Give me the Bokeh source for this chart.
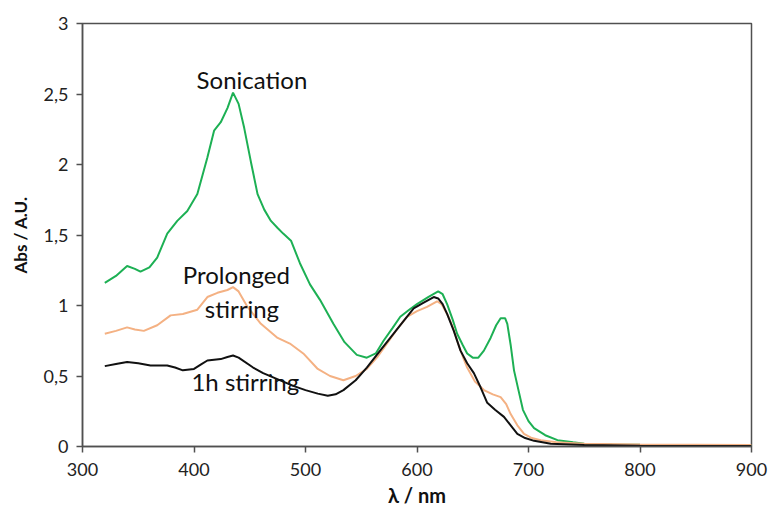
from bokeh.plotting import figure
from bokeh.models import Range1d, FixedTicker, Label
from bokeh.embed import file_html
from bokeh.resources import INLINE

# Sonication (green)
wl_son = [320, 330, 340, 347, 352, 360, 367, 376, 385, 394, 403, 412, 418, 424, 430,
          435, 440, 445, 451, 457, 463, 469, 475, 480, 487, 495, 504, 513, 525, 535,
          546, 555, 563, 570, 578, 585, 593, 600, 610, 619, 623, 627, 632, 636, 641,
          645, 650, 655, 660, 666, 671, 675, 679, 681, 684, 687, 691, 695, 700, 705,
          715, 726, 740, 750, 775, 800, 850, 900]
abs_son = [1.16, 1.21, 1.28, 1.26, 1.24, 1.27, 1.34, 1.51, 1.60, 1.67, 1.79, 2.05, 2.24, 2.30, 2.40,
           2.51, 2.43, 2.26, 2.02, 1.79, 1.68, 1.60, 1.55, 1.51, 1.46, 1.30, 1.15, 1.04, 0.87, 0.74,
           0.65, 0.63, 0.66, 0.75, 0.84, 0.92, 0.97, 1.01, 1.06, 1.10, 1.08, 1.01, 0.90, 0.80, 0.72,
           0.66, 0.63, 0.63, 0.68, 0.77, 0.86, 0.91, 0.91, 0.87, 0.72, 0.54, 0.40, 0.26, 0.18, 0.13,
           0.08, 0.045, 0.03, 0.02, 0.015, 0.012, 0.01, 0.005]

# Prolonged stirring (orange)
wl_pro = [320, 330, 340, 347, 355, 367, 379, 390, 403, 412, 421, 430, 435, 440, 448,
          460, 475, 486, 498, 511, 522, 534, 545, 555, 565, 573, 582, 591, 600, 609,
          618, 622, 627, 632, 636, 641, 645, 652, 660, 668, 675, 680, 684, 690, 696,
          703, 711, 725, 750, 800, 850, 900]
abs_pro = [0.80, 0.82, 0.845, 0.83, 0.82, 0.86, 0.93, 0.94, 0.97, 1.06, 1.09, 1.11, 1.13, 1.10, 0.99,
           0.87, 0.77, 0.73, 0.66, 0.55, 0.50, 0.47, 0.50, 0.55, 0.64, 0.73, 0.83, 0.92, 0.96, 0.99,
           1.03, 1.01, 0.94, 0.85, 0.75, 0.64, 0.56, 0.46, 0.40, 0.37, 0.35, 0.30, 0.23, 0.15, 0.09,
           0.06, 0.045, 0.03, 0.02, 0.015, 0.012, 0.01]

# 1h stirring (black)
wl_1h = [320, 330, 340, 350, 361, 376, 383, 390, 400, 406, 412, 424, 430, 435, 440,
         453, 462, 471, 480, 489, 500, 511, 520, 527, 534, 545, 555, 565, 576, 587,
         597, 606, 615, 619, 623, 627, 633, 639, 645, 651, 657, 663, 670, 678, 684,
         690, 697, 705, 720, 750, 800, 900]
abs_1h = [0.57, 0.585, 0.60, 0.59, 0.575, 0.575, 0.56, 0.54, 0.55, 0.58, 0.61, 0.62, 0.635, 0.645, 0.63,
          0.56, 0.52, 0.49, 0.46, 0.43, 0.40, 0.375, 0.36, 0.37, 0.40, 0.47, 0.56, 0.66, 0.77, 0.88,
          0.98, 1.02, 1.06, 1.05, 1.01, 0.94, 0.82, 0.68, 0.59, 0.52, 0.42, 0.31, 0.26, 0.21, 0.15,
          0.09, 0.06, 0.04, 0.02, 0.01, 0.005, 0.003]

x_ticks = [300, 400, 500, 600, 700, 800, 900]
y_ticks = [0, 0.5, 1, 1.5, 2, 2.5, 3]
y_tick_labels = ["0", "0,5", "1", "1,5", "2", "2,5", "3"]

FONT = "Lato"
AXIS_COLOR = "#505050"

p = figure(width=769, height=512, output_backend="svg", toolbar_location=None,
           x_range=Range1d(300, 900), y_range=Range1d(0, 3),
           min_border_left=82, min_border_right=18, min_border_top=23, min_border_bottom=66)

p.xgrid.visible = False
p.ygrid.visible = False
p.outline_line_color = AXIS_COLOR
p.outline_line_width = 1.5
p.background_fill_color = "white"
p.border_fill_color = "white"

p.line(wl_son, abs_son, line_color="#1DB054", line_width=2)
p.line(wl_pro, abs_pro, line_color="#F4B183", line_width=2)
p.line(wl_1h, abs_1h, line_color="#111111", line_width=2)

for ax in (p.xaxis[0], p.yaxis[0]):
    ax.axis_line_color = AXIS_COLOR
    ax.axis_line_width = 1.5
    ax.major_tick_line_color = AXIS_COLOR
    ax.major_tick_line_width = 1.5
    ax.major_tick_out = 6
    ax.major_tick_in = 0
    ax.minor_tick_out = 0
    ax.minor_tick_in = 0
    ax.major_label_text_font = FONT
    ax.major_label_text_font_size = "18px"
    ax.major_label_text_color = "#222222"
    ax.axis_label_text_font = FONT
    ax.axis_label_text_font_style = "bold"
    ax.axis_label_text_color = "#111111"

p.xaxis.axis_label_text_font_size = "20px"
p.yaxis.axis_label_text_font_size = "17px"
p.xaxis.ticker = FixedTicker(ticks=x_ticks)
p.yaxis.ticker = FixedTicker(ticks=y_ticks)
p.yaxis.major_label_overrides = {t: l for t, l in zip(y_ticks, y_tick_labels)}
p.xaxis.axis_label = "λ / nm"
p.yaxis.axis_label = "Abs / A.U."
p.xaxis.major_label_standoff = 10
p.yaxis.major_label_standoff = 8
p.xaxis.axis_label_standoff = 4
p.yaxis.axis_label_standoff = 10

for txt, x, y in [("Sonication", 452, 2.6), ("Prolonged", 438, 1.22),
                  ("stirring", 443, 0.98), ("1h stirring", 446, 0.46)]:
    p.add_layout(Label(x=x, y=y, text=txt, text_align="center", text_baseline="middle",
                       text_font=FONT, text_font_size="24px", text_color="#111111"))

open("out.html", "w").write(file_html(p, INLINE))
